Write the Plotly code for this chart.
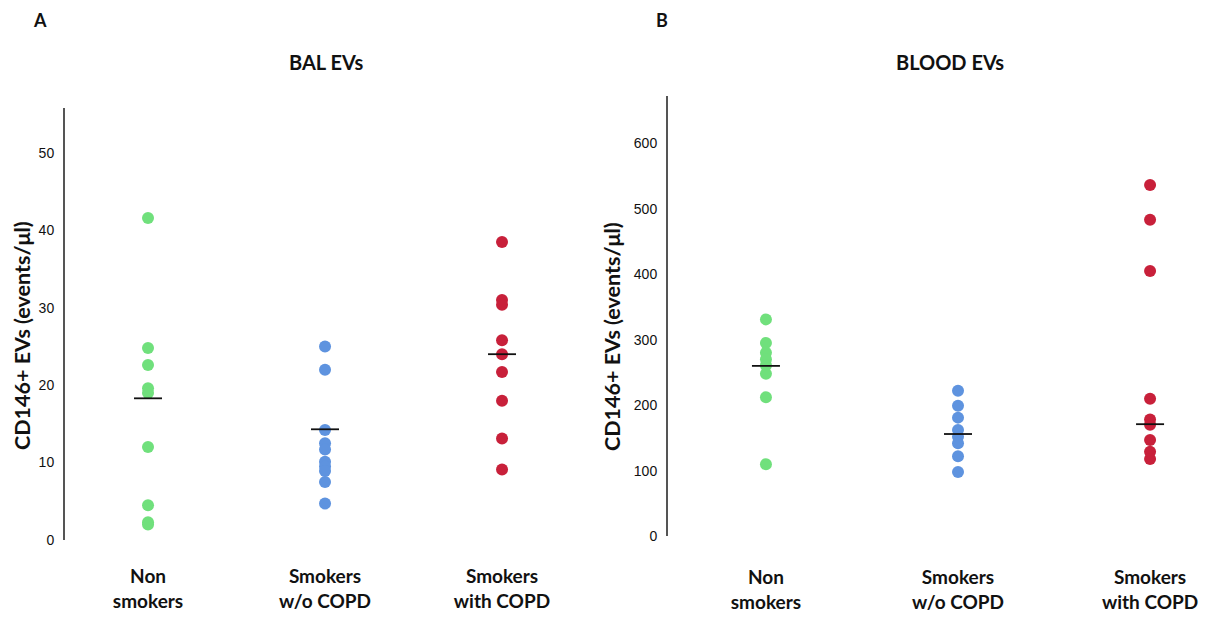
import plotly.graph_objects as go

categories = ["<b>Non</b><br><b>smokers</b>", "<b>Smokers</b><br><b>w/o COPD</b>", "<b>Smokers</b><br><b>with COPD</b>"]
colors = ["#70e07c", "#5e93df", "#c8203a"]

bal_non = [41.6, 24.8, 22.6, 19.6, 19.0, 12.0, 4.5, 2.3, 2.0]
bal_wo = [25.0, 22.0, 14.2, 12.5, 11.7, 10.1, 9.5, 8.9, 7.5, 4.7]
bal_with = [38.5, 31.0, 30.4, 25.8, 24.0, 21.7, 18.0, 13.1, 9.1]
bal_medians = [18.3, 14.3, 24.0]

blood_non = [331, 295, 280, 270, 261, 248, 212, 110]
blood_wo = [222, 199, 181, 162, 152, 142, 122, 98]
blood_with = [536, 483, 405, 210, 178, 170, 147, 129, 118]
blood_medians = [260, 156, 171]

fig = go.Figure()

def add_panel(groups, medians, xa, ya):
    for i, vals in enumerate(groups):
        fig.add_trace(go.Scatter(
            x=[i] * len(vals), y=vals, mode="markers",
            marker=dict(size=12, color=colors[i], line=dict(width=0)),
            xaxis=xa, yaxis=ya, showlegend=False, hoverinfo="y"))
    fig.add_trace(go.Scatter(
        x=list(range(len(medians))), y=medians, mode="markers",
        marker=dict(symbol="line-ew", size=20, line=dict(width=1.8, color="#111111")),
        xaxis=xa, yaxis=ya, showlegend=False, hoverinfo="y"))

add_panel([bal_non, bal_wo, bal_with], bal_medians, "x", "y")
add_panel([blood_non, blood_wo, blood_with], blood_medians, "x2", "y2")

# page body has an 8px margin; work in reference pixel coordinates
OFF = 8
W, H = 1210 - OFF, 617 - OFF

def px(x):
    return (x - OFF) / W

def py(y):
    return 1 - (y - OFF) / H

tickfont = dict(family="Liberation Sans, Arial", size=14, color="#111111")
catfont = dict(family="Lato, Open Sans, sans-serif", size=19, color="#111111")

xcommon = dict(tickmode="array", tickvals=[0, 1, 2], ticktext=categories,
               showline=False, showgrid=False, zeroline=False, ticks="",
               tickfont=catfont, fixedrange=True)
ycommon = dict(showline=True, linecolor="#555555", linewidth=2, showgrid=False,
               zeroline=False, ticks="", tickfont=tickfont, ticklabelstandoff=6)

fig.update_layout(
    width=W, height=H, margin=dict(l=0, r=0, t=0, b=0, autoexpand=False),
    paper_bgcolor="white", plot_bgcolor="white",
    xaxis=dict(domain=[px(65), px(590)], range=[-0.469, 2.497], anchor="y",
               ticklabelstandoff=23, **xcommon),
    yaxis=dict(domain=[py(540), py(108)], range=[0, 55.8], anchor="x",
               tickvals=[0, 10, 20, 30, 40, 50], **ycommon),
    xaxis2=dict(domain=[px(668), px(1200)], range=[-0.51, 2.26], anchor="y2",
                ticklabelstandoff=28, **xcommon),
    yaxis2=dict(domain=[py(536.2), py(96)], range=[0, 672], anchor="x2",
                tickvals=[0, 100, 200, 300, 400, 500, 600], **ycommon),
)

ann_font_bold = dict(family="Lato, Open Sans, sans-serif", size=20, color="#111111")
title_font = dict(family="Lato, Open Sans, sans-serif", size=21.5, color="#111111")
letter_font = dict(family="Lato, Open Sans, sans-serif", size=18, color="#111111")
annotations = [
    dict(text="<b>A</b>", x=px(40), y=py(20), font=letter_font),
    dict(text="<b>B</b>", x=px(662), y=py(20), font=letter_font),
    dict(text="<b>BAL EVs</b>", x=px(326), y=py(62), font=ann_font_bold),
    dict(text="<b>BLOOD EVs</b>", x=px(950), y=py(62), font=ann_font_bold),
    dict(text="<b>CD146+ EVs (events/μl)</b>", x=px(22), y=py(336), textangle=-90, font=title_font),
    dict(text="<b>CD146+ EVs (events/μl)</b>", x=px(612), y=py(337), textangle=-90, font=title_font),
]
for a in annotations:
    a.update(xref="paper", yref="paper", showarrow=False, xanchor="center", yanchor="middle")
fig.update_layout(annotations=annotations)

fig.write_html("out.html")
